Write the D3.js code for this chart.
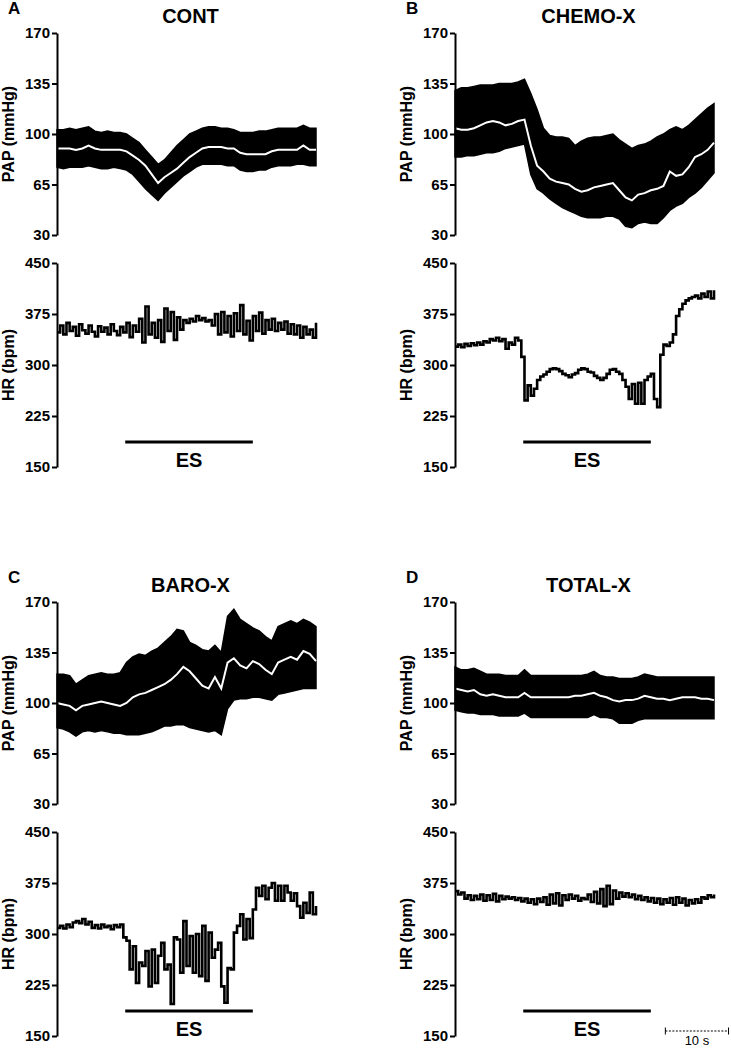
<!DOCTYPE html>
<html>
<head>
<meta charset="utf-8">
<script src="https://cdn.jsdelivr.net/npm/d3@7"></script>
<style>
  html, body { margin: 0; padding: 0; background: #fff; }
  svg { display: block; }
  text { font-family: "Liberation Sans", Arial, sans-serif; }
</style>
</head>
<body>
<svg id="chart" width="731" height="1050"></svg>
<script>
// ---------------- DATA ----------------
// time axis (seconds); PAP sampled every 1 s, HR every 0.5 s
const PAP_STEP = 1;
const HR_STEP = 0.5;
const PAP_TICKS = [30, 65, 100, 135, 170];
const HR_TICKS = [150, 225, 300, 375, 450];
const ES_PERIOD = [10.8, 31.0];
const SCALE_BAR = [33.3, 43.3];
const SCALE_LABEL = "10 s";

// Panel A - CONT
const A_sys  = [103,103,104,103,104,105,102,101,102,101,101,100,97,94,89,84,79,82,87,92,96,100,102,104,105,105,104,104,103,101,101,101,102,102,103,104,104,104,104,106,104,104];
const A_dia  = [77,76,77,77,77,78,77,76,76,77,76,75,72,67,62,58,54,59,63,67,71,74,77,79,79,79,79,78,78,75,74,74,75,75,77,78,78,78,79,79,78,78];
const A_mean = [90,90,90,89,90,92,90,89,89,89,89,88,85,82,78,72,66,70,73,76,80,84,87,90,91,91,91,90,90,87,86,86,86,86,88,89,89,89,89,92,89,89];
const A_hr = [348,358,345,362,350,356,343,360,351,346,358,349,342,357,349,355,345,360,350,344,356,348,362,341,358,349,368,333,386,345,362,340,366,334,383,350,378,337,370,352,366,362,368,364,372,366,369,364,366,358,375,345,378,348,372,342,376,350,388,345,365,336,372,350,377,346,366,352,368,350,362,352,364,346,360,345,358,340,356,345,352,340,362];

// Panel B - CHEMO-X
const B_sys  = [130,132,132,133,134,134,134,135,135,135,136,138,128,117,104,99,98,98,97,92,95,97,98,98,99,100,96,93,90,92,93,95,98,100,103,105,103,106,110,114,118,121];
const B_dia  = [84,84,85,85,86,87,87,88,90,91,92,93,72,62,59,55,52,49,47,45,43,42,42,42,43,43,41,36,35,38,39,38,38,42,47,50,52,56,59,63,68,73];
const B_mean = [104,103,103,104,106,108,109,108,106,107,109,110,92,78,74,69,67,66,65,62,60,61,63,64,65,66,61,56,54,58,59,61,62,64,74,71,72,77,84,86,89,94];
const B_hr = [327,330,326,331,328,332,329,333,330,335,333,338,336,340,335,338,324,333,330,340,336,312,248,270,255,265,278,283,286,290,294,295,294,291,287,285,282,286,288,293,295,294,290,289,284,281,278,281,287,293,294,290,287,278,268,250,272,243,274,243,278,283,287,250,238,315,330,328,333,345,372,382,390,395,398,400,402,398,405,400,408,398,410];

// Panel C - BARO-X
const C_sys  = [120,120,119,113,116,119,120,121,120,120,121,128,132,134,133,136,138,142,146,151,150,142,140,137,136,140,135,160,165,158,155,152,150,146,143,153,155,157,155,158,156,153];
const C_dia  = [83,82,80,77,80,81,80,81,80,79,79,78,78,78,79,80,82,84,84,85,85,83,82,81,80,81,78,96,102,103,103,104,104,103,102,106,107,108,109,110,110,110];
const C_mean = [100,99,98,95,98,99,100,101,100,99,98,100,104,106,107,109,111,113,116,120,125,122,117,112,110,118,110,128,131,126,124,129,127,123,120,128,130,132,130,136,134,129];
const C_hr = [309,312,308,314,310,317,319,316,322,314,318,309,313,308,314,310,312,307,313,310,314,295,290,248,282,228,258,253,275,223,277,228,268,287,248,255,197,295,292,243,319,253,297,243,300,238,312,231,302,265,277,287,223,199,250,248,302,312,329,292,322,294,336,368,356,371,351,368,375,349,371,349,371,361,349,360,341,324,346,331,361,329,341];

// Panel D - TOTAL-X
const D_sys  = [125,123,123,124,122,120,120,120,119,119,119,123,119,119,119,119,119,119,119,119,119,120,122,119,118,118,117,117,117,118,120,119,118,118,118,118,118,118,118,118,118,118];
const D_dia  = [95,94,93,93,92,92,92,91,91,91,91,93,90,90,90,90,90,90,90,90,90,90,92,90,90,89,86,86,86,88,89,89,89,89,89,89,89,89,89,89,89,89];
const D_mean = [110,109,108,109,106,105,106,105,104,104,104,107,104,104,104,104,104,104,104,105,105,106,107,105,104,102,101,102,102,103,105,104,103,103,102,103,104,104,104,103,103,102];
const D_hr = [363,358,361,352,357,350,356,351,358,349,357,350,359,348,356,351,355,352,354,350,353,348,352,346,351,344,352,347,354,343,358,345,360,342,357,350,358,352,356,349,353,351,358,347,362,345,366,341,371,344,364,352,361,355,360,354,358,351,356,350,354,348,353,346,352,344,351,346,353,343,354,346,352,342,350,345,351,346,354,352,357,354,358];

const PANELS = [
  { letter: "A", title: "CONT",    x0: 57,  dy: 0,   sys: A_sys, dia: A_dia, mean: A_mean, hr: A_hr },
  { letter: "B", title: "CHEMO-X", x0: 455, dy: 0,   sys: B_sys, dia: B_dia, mean: B_mean, hr: B_hr },
  { letter: "C", title: "BARO-X",  x0: 57,  dy: 569, sys: C_sys, dia: C_dia, mean: C_mean, hr: C_hr },
  { letter: "D", title: "TOTAL-X", x0: 455, dy: 569, sys: D_sys, dia: D_dia, mean: D_mean, hr: D_hr, scaleBar: true }
];

// ---------------- DRAW ----------------
const svg = d3.select("#chart");
const FONT = '"Liberation Sans", Arial, sans-serif';
const TMAX = 41;
const PLOT_W = 259;

function styleAxis(g) {
  g.select(".domain").attr("stroke", "#000").attr("stroke-width", 2);
  g.selectAll(".tick line").attr("stroke", "#000").attr("stroke-width", 2);
  g.selectAll(".tick text")
    .attr("fill", "#000")
    .style("font-family", FONT)
    .style("font-size", "15px")
    .style("font-weight", "bold");
}

PANELS.forEach(p => {
  const g = svg.append("g").attr("transform", `translate(0,${p.dy})`);
  const x = d3.scaleLinear().domain([0, TMAX]).range([p.x0, p.x0 + PLOT_W]);
  const yP = d3.scaleLinear().domain([30, 170]).range([235, 33]);
  const yH = d3.scaleLinear().domain([150, 450]).range([467, 263]);

  // panel letter and title
  g.append("text").attr("x", p.x0 - 49).attr("y", 14)
    .style("font-size", "17px").style("font-weight", "bold").text(p.letter);
  g.append("text").attr("x", x(TMAX / 2) + 4).attr("y", 23)
    .attr("text-anchor", "middle")
    .style("font-size", "20px").style("font-weight", "bold").text(p.title);

  // PAP band (systolic-diastolic) and mean
  const papData = p.sys.map((s, i) => ({ t: i * PAP_STEP, s: s, d: p.dia[i], m: p.mean[i] }));
  g.append("path").datum(papData)
    .attr("d", d3.area().x(d => x(d.t)).y0(d => yP(d.d)).y1(d => yP(d.s)))
    .attr("fill", "#000").attr("stroke", "#000").attr("stroke-width", 1.5)
    .attr("stroke-linejoin", "miter");
  g.append("path").datum(papData)
    .attr("d", d3.line().x(d => x(d.t)).y(d => yP(d.m)))
    .attr("fill", "none").attr("stroke", "#fff").attr("stroke-width", 2);

  // HR trace
  const hrData = p.hr.map((v, i) => ({ t: i * HR_STEP, v: v }));
  g.append("path").datum(hrData)
    .attr("d", d3.line().curve(d3.curveStepAfter).x(d => x(Math.min(d.t, TMAX))).y(d => yH(d.v)))
    .attr("fill", "none").attr("stroke", "#000").attr("stroke-width", 2.6);

  // axes
  const axP = g.append("g").attr("transform", `translate(${p.x0},0)`)
    .call(d3.axisLeft(yP).tickValues(PAP_TICKS).tickSize(5).tickSizeOuter(0).tickPadding(2));
  styleAxis(axP);
  const axH = g.append("g").attr("transform", `translate(${p.x0},0)`)
    .call(d3.axisLeft(yH).tickValues(HR_TICKS).tickSize(5).tickSizeOuter(0).tickPadding(2));
  styleAxis(axH);

  // axis titles
  g.append("text")
    .attr("transform", `translate(${p.x0 - 43},${(yP(30) + yP(170)) / 2}) rotate(-90)`)
    .attr("text-anchor", "middle")
    .style("font-size", "16px").style("font-weight", "bold").text("PAP (mmHg)");
  g.append("text")
    .attr("transform", `translate(${p.x0 - 43},${(yH(150) + yH(450)) / 2}) rotate(-90)`)
    .attr("text-anchor", "middle")
    .style("font-size", "16px").style("font-weight", "bold").text("HR (bpm)");

  // ES bar
  g.append("line")
    .attr("x1", x(ES_PERIOD[0])).attr("x2", x(ES_PERIOD[1]))
    .attr("y1", 442).attr("y2", 442)
    .attr("stroke", "#000").attr("stroke-width", 3);
  g.append("text").attr("x", x((ES_PERIOD[0] + ES_PERIOD[1]) / 2)).attr("y", 467)
    .attr("text-anchor", "middle")
    .style("font-size", "20px").style("font-weight", "bold").text("ES");

  // time scale bar
  if (p.scaleBar) {
    const sx0 = x(SCALE_BAR[0]), sx1 = x(SCALE_BAR[1]);
    const sy = 462;
    g.append("line").attr("x1", sx0).attr("x2", sx1).attr("y1", sy).attr("y2", sy)
      .attr("stroke", "#000").attr("stroke-width", 1).attr("stroke-dasharray", "2,1.5");
    [sx0, sx1].forEach(v => g.append("line").attr("x1", v).attr("x2", v)
      .attr("y1", sy - 3.5).attr("y2", sy + 3.5).attr("stroke", "#000").attr("stroke-width", 1));
    g.append("text").attr("x", (sx0 + sx1) / 2).attr("y", 476)
      .attr("text-anchor", "middle").style("font-size", "13px").text(SCALE_LABEL);
  }
});
</script>
</body>
</html>
